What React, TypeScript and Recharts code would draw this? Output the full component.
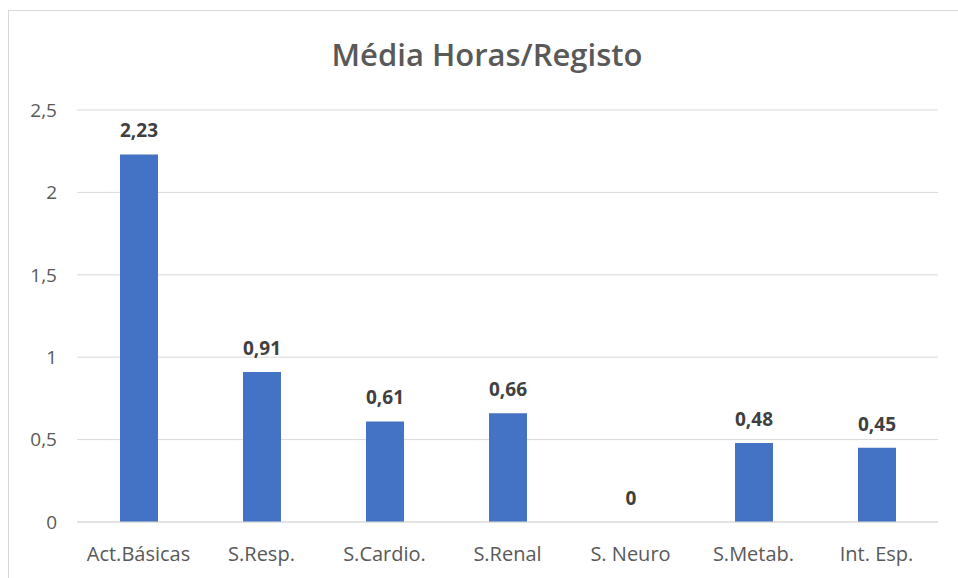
import { BarChart, Bar, XAxis, YAxis, CartesianGrid, LabelList } from 'recharts'

const categories = ['Act.Básicas', 'S.Resp.', 'S.Cardio.', 'S.Renal', 'S. Neuro', 'S.Metab.', 'Int. Esp.']
const values = [2.23, 0.91, 0.61, 0.66, 0, 0.48, 0.45]
const yTicks = [0, 0.5, 1, 1.5, 2, 2.5]

const data = categories.map((name, i) => ({ name, value: values[i] }))

const FONT = '"Open Sans", Lato, sans-serif'
const fmt = (v: number) => String(v).replace('.', ',')

export default function App() {
  return (
    <div style={{ position: 'absolute', left: 0, top: 0, width: 958, height: 578, overflow: 'hidden', background: '#fff', fontFamily: FONT }}>
      <div style={{ position: 'absolute', left: 8, top: 10, width: 980, height: 620, border: '1px solid #d9d9d9', boxSizing: 'border-box' }} />
      <div style={{ position: 'absolute', left: 0, top: 33, width: 974, textAlign: 'center', fontSize: 31, fontWeight: 600, color: '#595959' }}>
        Média Horas/Registo
      </div>
      <div style={{ position: 'absolute', left: 0, top: 0 }}>
        <BarChart width={958} height={578} data={data} margin={{ top: 110, right: 20, bottom: 26, left: 0 }}>
          <CartesianGrid vertical={false} stroke="#d9d9d9" />
          <XAxis
            dataKey="name"
            height={30}
            tick={{ fill: '#595959', fontSize: 20, fontFamily: FONT }}
            tickLine={false}
            axisLine={{ stroke: '#d9d9d9' }}
            tickMargin={19}
            interval={0}
          />
          <YAxis
            width={77}
            domain={[0, 2.5]}
            ticks={yTicks}
            tick={{ fill: '#595959', fontSize: 19, fontFamily: FONT, dx: -12 }}
            tickFormatter={fmt}
            tickLine={false}
            axisLine={false}
          />
          <Bar
            dataKey="value"
            fill="#4472c4"
            barSize={38}
            minPointSize={(v: number) => (v === 0 ? 0.01 : 0)}
            isAnimationActive={false}
          >
            <LabelList
              dataKey="value"
              position="top"
              offset={17}
              formatter={(v: any) => fmt(v)}
              style={{ fill: '#404040', fontSize: 19, fontWeight: 700, fontFamily: FONT }}
            />
          </Bar>
        </BarChart>
      </div>
    </div>
  )
}
